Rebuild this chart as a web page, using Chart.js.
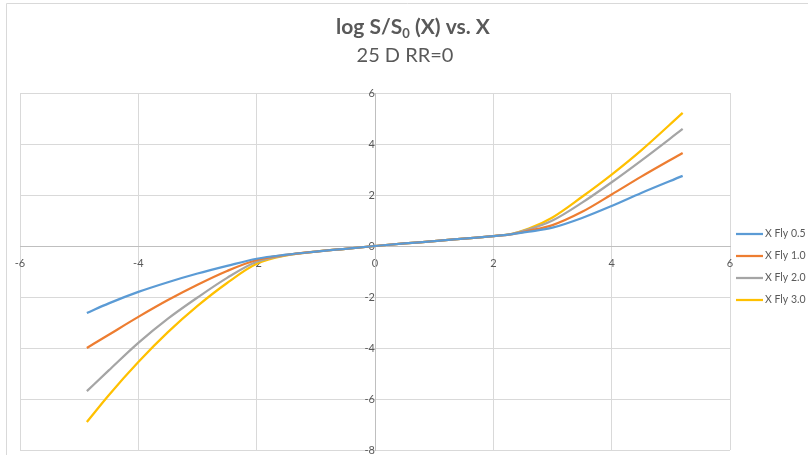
<!DOCTYPE html>
<html>
<head>
<meta charset="utf-8">
<title>log S/S0 (X) vs. X</title>
<script src="https://cdn.jsdelivr.net/npm/chart.js@4"></script>
<style>
    body { margin: 0; background: #ffffff; }
    canvas { display: block; }
</style>
</head>
<body>
<canvas id="flyChart" width="808" height="455"></canvas>
<script>
// Valores de X (comunes a las cuatro series)
const xValues = [-4.87, -4.5, -4, -3.5, -3, -2.5, -2, -1.5, -1, -0.5, 0, 0.5, 1, 1.5, 2, 2.3, 2.6, 3, 3.5, 4, 4.5, 5.2];

// Valores de log S/S0 para cada serie
const fly05 = [-2.63, -2.25, -1.8, -1.42, -1.08, -0.78, -0.5, -0.34, -0.22, -0.11, 0, 0.1, 0.19, 0.29, 0.39, 0.46, 0.56, 0.72, 1.1, 1.57, 2.08, 2.75];
const fly10 = [-4.0, -3.48, -2.78, -2.12, -1.52, -0.98, -0.55, -0.35, -0.22, -0.11, 0, 0.1, 0.19, 0.29, 0.39, 0.46, 0.6, 0.82, 1.34, 2.02, 2.72, 3.65];
const fly20 = [-5.69, -4.88, -3.8, -2.85, -2.02, -1.25, -0.62, -0.36, -0.22, -0.11, 0, 0.1, 0.19, 0.29, 0.39, 0.47, 0.65, 1.0, 1.7, 2.5, 3.35, 4.59];
const fly30 = [-6.9, -5.85, -4.55, -3.38, -2.35, -1.45, -0.7, -0.37, -0.22, -0.11, 0, 0.1, 0.19, 0.29, 0.39, 0.47, 0.68, 1.12, 1.93, 2.8, 3.75, 5.22];

const seriesLabels = ['X Fly 0.5', 'X Fly 1.0', 'X Fly 2.0', 'X Fly 3.0'];
const seriesColors = ['#5B9BD5', '#ED7D31', '#A5A5A5', '#FFC000'];

// Ticks de los ejes
const xTicks = [-6, -4, -2, 0, 2, 4, 6];
const yTicks = [-8, -6, -4, -2, 0, 2, 4, 6];

const textColor = '#595959';
const fontFamily = 'Lato, "Open Sans", sans-serif';

// Función para convertir una serie en puntos {x, y}
function toPoints(values) {
    return values.map((v, i) => ({ x: xValues[i], y: v }));
}

// Plugin para el título, la leyenda y el borde del gráfico
const decorPlugin = {
    id: 'decor',
    afterDraw(chart) {
        const ctx = chart.ctx;
        ctx.save();

        // Borde exterior (solo arriba e izquierda son visibles)
        ctx.strokeStyle = '#D9D9D9';
        ctx.lineWidth = 1;
        ctx.beginPath();
        ctx.moveTo(6.5, 460);
        ctx.lineTo(6.5, 3.5);
        ctx.lineTo(810, 3.5);
        ctx.stroke();

        // Título con subíndice
        ctx.fillStyle = textColor;
        ctx.textBaseline = 'alphabetic';
        const partA = 'log S/S';
        const partSub = '0';
        const partB = ' (X) vs. X';
        ctx.font = 'bold 21px ' + fontFamily;
        const wA = ctx.measureText(partA).width;
        const wB = ctx.measureText(partB).width;
        ctx.font = 'bold 13px ' + fontFamily;
        const wSub = ctx.measureText(partSub).width;
        let x = 413 - (wA + wSub + wB) / 2;
        ctx.textAlign = 'left';
        ctx.font = 'bold 21px ' + fontFamily;
        ctx.fillText(partA, x, 34);
        x += wA;
        ctx.font = 'bold 13px ' + fontFamily;
        ctx.fillText(partSub, x, 38);
        x += wSub;
        ctx.font = 'bold 21px ' + fontFamily;
        ctx.fillText(partB, x, 34);

        // Subtítulo
        ctx.font = '20px ' + fontFamily;
        ctx.textAlign = 'center';
        ctx.fillText('25 D RR=0', 405, 62);

        // Leyenda a la derecha
        ctx.font = '10.5px ' + fontFamily;
        ctx.textAlign = 'left';
        ctx.textBaseline = 'middle';
        chart.data.datasets.forEach((ds, i) => {
            const yy = 234 + i * 22;
            ctx.strokeStyle = ds.borderColor;
            ctx.lineWidth = 2.25;
            ctx.beginPath();
            ctx.moveTo(736, yy);
            ctx.lineTo(763, yy);
            ctx.stroke();
            ctx.fillStyle = textColor;
            ctx.fillText(ds.label, 765, yy);
        });

        ctx.restore();
    }
};

// Quitar el relleno que las etiquetas añaden al área del gráfico
function noPadding(scale) {
    scale.paddingLeft = 0;
    scale.paddingRight = 0;
    scale.paddingTop = 0;
    scale.paddingBottom = 0;
}

const datasets = [fly05, fly10, fly20, fly30].map((values, i) => ({
    label: seriesLabels[i],
    data: toPoints(values),
    borderColor: seriesColors[i],
    backgroundColor: seriesColors[i],
    borderWidth: 2.25,
    pointRadius: 0,
    showLine: true,
    fill: false,
    cubicInterpolationMode: 'monotone'
}));

const ctx = document.getElementById('flyChart').getContext('2d');
const chart = new Chart(ctx, {
    type: 'scatter',
    data: { datasets },
    options: {
        responsive: false,
        animation: false,
        layout: {
            padding: { left: 20, right: 78, top: 93, bottom: 5 }
        },
        plugins: {
            legend: { display: false },
            title: { display: false },
            tooltip: { enabled: false }
        },
        scales: {
            x: {
                type: 'linear',
                position: { y: 0 },
                min: -6,
                max: 6,
                afterBuildTicks: axis => { axis.ticks = xTicks.map(v => ({ value: v })); },
                afterFit: noPadding,
                grid: { color: '#D9D9D9', drawTicks: false },
                border: { color: '#BFBFBF', width: 1 },
                ticks: {
                    color: textColor,
                    font: { family: fontFamily, size: 11 },
                    padding: 11,
                    maxRotation: 0
                }
            },
            y: {
                type: 'linear',
                position: { x: 0 },
                min: -8,
                max: 6,
                afterBuildTicks: axis => { axis.ticks = yTicks.map(v => ({ value: v })); },
                afterFit: noPadding,
                grid: { color: '#D9D9D9', drawTicks: false },
                border: { color: '#BFBFBF', width: 1 },
                ticks: {
                    color: textColor,
                    font: { family: fontFamily, size: 11 },
                    padding: 11
                }
            }
        }
    },
    plugins: [decorPlugin]
});
</script>
</body>
</html>
